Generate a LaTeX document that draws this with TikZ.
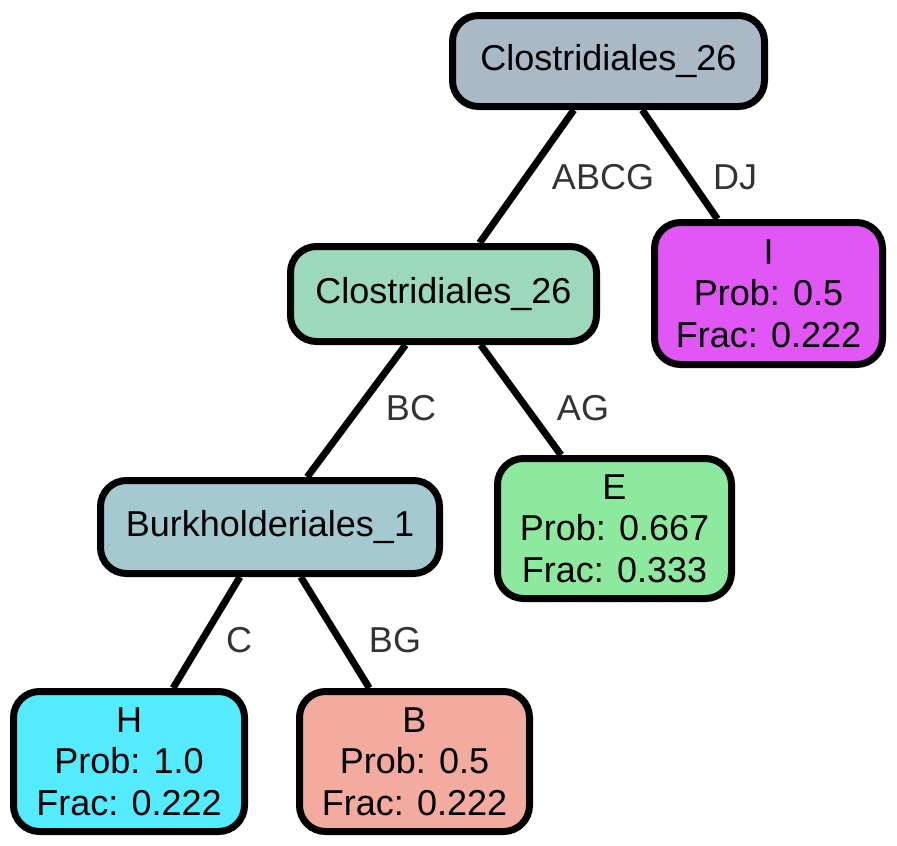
\documentclass[tikz,border=0pt]{standalone}
\usepackage{fontspec}
\setmainfont{Liberation Sans}
\begin{document}
\begin{tikzpicture}[x=1pt,y=-1pt,
  box/.style={draw=black, line width=7pt, rounded corners=26pt, inner sep=0pt, align=center,
    font=\fontsize{36}{41.5}\selectfont},
  conn/.style={line width=7pt, draw=black},
  elab/.style={text=black!80, font=\fontsize{36}{41.5}\selectfont, inner sep=0pt}]
\useasboundingbox (0,0) rectangle (897,846);
\definecolor{cRoot}{HTML}{A9B9C6}
\definecolor{cMid}{HTML}{9BD8BC}
\definecolor{cI}{HTML}{E057F6}
\definecolor{cBurk}{HTML}{A5C9D0}
\definecolor{cE}{HTML}{8DE99D}
\definecolor{cH}{HTML}{55EBFE}
\definecolor{cB}{HTML}{F3AA9F}
\node[box, fill=cRoot, minimum width=312pt, minimum height=91pt] (root) at (608.5,61) {Clostridiales\_26};
\node[box, fill=cMid, minimum width=306pt, minimum height=95pt] (mid) at (443.5,294) {Clostridiales\_26};
\node[box, fill=cI, minimum width=228pt, minimum height=142pt] (I) at (768.5,293.5) {I\\Prob: 0.5\\Frac: 0.222};
\node[box, fill=cBurk, minimum width=339pt, minimum height=93pt] (burk) at (270,527) {Burkholderiales\_1};
\node[box, fill=cE, minimum width=234pt, minimum height=140pt] (E) at (614.5,528.5) {E\\Prob: 0.667\\Frac: 0.333};
\node[box, fill=cH, minimum width=231pt, minimum height=140pt] (H) at (129,761.5) {H\\Prob: 1.0\\Frac: 0.222};
\node[box, fill=cB, minimum width=230pt, minimum height=140pt] (B) at (414.5,761.5) {B\\Prob: 0.5\\Frac: 0.222};
\draw[conn] (root) -- (mid);
\draw[conn] (root) -- (I);
\draw[conn] (mid) -- (burk);
\draw[conn] (mid) -- (E);
\draw[conn] (burk) -- (H);
\draw[conn] (burk) -- (B);
\node[elab] (lABCG) at (603,177) {ABCG};
\node[elab] (lDJ) at (735,177) {DJ};
\node[elab] (lBC) at (411,408) {BC};
\node[elab] (lAG) at (583,408) {AG};
\node[elab] (lC) at (239,640) {C};
\node[elab] (lBG) at (395,640) {BG};
\end{tikzpicture}
\end{document}
